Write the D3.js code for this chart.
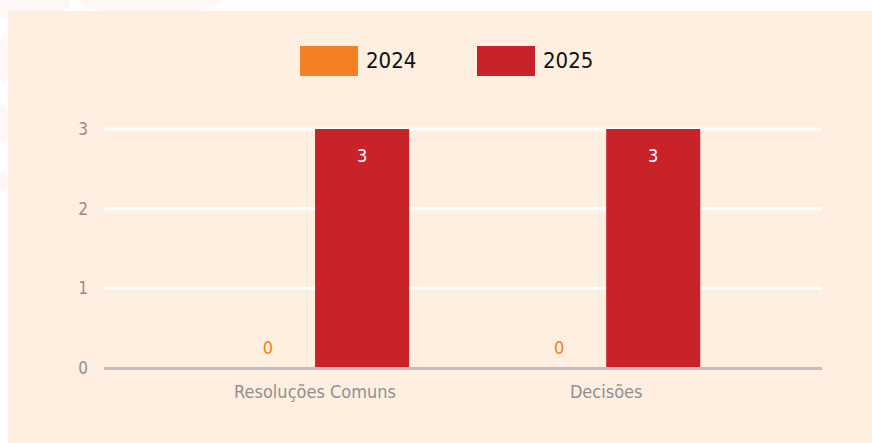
<!DOCTYPE html>
<html>
<head>
<meta charset="utf-8">
<script src="https://cdn.jsdelivr.net/npm/d3@7"></script>
<style>
  body { margin: 0; background: #fff; }
  svg { display: block; }
  text { font-family: "Liberation Sans Narrow", "DejaVu Sans Condensed", "Noto Sans", sans-serif; }
</style>
</head>
<body>
<div id="chart"></div>
<script>
// dados
const categories = ["Resoluções Comuns", "Decisões"];
const seriesNames = ["2024", "2025"];
const values2024 = [0, 0];
const values2025 = [3, 3];
const yTicks = [0, 1, 2, 3];
const colors = ["#f58023", "#c9232a"];

const width = 872, height = 443;

const svg = d3.select("#chart")
    .append("svg")
    .attr("width", width)
    .attr("height", height);

// manchas claras atrás do painel
const blobs = [
    { x: 20, y: 4, rx: 50, ry: 14 },
    { x: 150, y: 2, rx: 70, ry: 12 },
    { x: 3, y: 60, rx: 6, ry: 24 },
    { x: 3, y: 125, rx: 6, ry: 20 },
    { x: 3, y: 182, rx: 5, ry: 10 }
];
svg.selectAll("ellipse.blob")
    .data(blobs)
    .enter()
    .append("ellipse")
    .attr("cx", d => d.x)
    .attr("cy", d => d.y)
    .attr("rx", d => d.rx)
    .attr("ry", d => d.ry)
    .attr("fill", "#fef7f6");

// painel
svg.append("rect")
    .attr("x", 8)
    .attr("y", 11)
    .attr("width", width - 8)
    .attr("height", height - 11)
    .attr("fill", "#feefe1");

const left = 104, right = 822;

const y = d3.scaleLinear()
    .domain([0, 3])
    .range([368, 129]);

const x0 = d3.scaleBand()
    .domain(categories)
    .range([left, right])
    .paddingInner(0.354)
    .paddingOuter(0.41)
    .align(0.49);

const x1 = d3.scaleBand()
    .domain(seriesNames)
    .range([0, x0.bandwidth()]);

// grade
svg.append("g")
    .selectAll("line")
    .data(yTicks.filter(d => d > 0))
    .enter()
    .append("line")
    .attr("x1", left)
    .attr("x2", right)
    .attr("y1", d => y(d))
    .attr("y2", d => y(d))
    .attr("stroke", "#fff")
    .attr("stroke-width", 3);

// rótulos do eixo y
svg.append("g")
    .selectAll("text")
    .data(yTicks)
    .enter()
    .append("text")
    .attr("x", 83)
    .attr("y", d => y(d))
    .attr("dy", "0.35em")
    .attr("text-anchor", "middle")
    .attr("fill", "#8f8f8f")
    .attr("font-size", "17px")
    .text(d => d);

const rows = categories.map((c, i) => ({
    cat: c,
    vals: [
        { s: "2024", v: values2024[i], color: colors[0] },
        { s: "2025", v: values2025[i], color: colors[1] }
    ]
}));

const groups = svg.selectAll("g.grupo")
    .data(rows)
    .enter()
    .append("g")
    .attr("class", "grupo")
    .attr("transform", d => `translate(${x0(d.cat)},0)`);

groups.selectAll("rect")
    .data(d => d.vals)
    .enter()
    .append("rect")
    .attr("x", d => x1(d.s))
    .attr("width", x1.bandwidth())
    .attr("y", d => y(d.v))
    .attr("height", d => y(0) - y(d.v))
    .attr("fill", d => d.color);

// valores nas barras
groups.selectAll("text")
    .data(d => d.vals)
    .enter()
    .append("text")
    .attr("x", d => x1(d.s) + x1.bandwidth() / 2)
    .attr("y", d => d.v > 0 ? y(d.v) + 33 : y(d.v) - 14)
    .attr("text-anchor", "middle")
    .attr("fill", d => d.v > 0 ? "#fff" : d.color)
    .attr("font-size", "18px")
    .text(d => d.v);

// linha de base
svg.append("line")
    .attr("x1", left)
    .attr("x2", right)
    .attr("y1", y(0) + 0.5)
    .attr("y2", y(0) + 0.5)
    .attr("stroke", "#c2bebb")
    .attr("stroke-width", 3);

// rótulos das categorias
svg.append("g")
    .selectAll("text")
    .data(categories)
    .enter()
    .append("text")
    .attr("x", d => x0(d) + x0.bandwidth() / 2)
    .attr("y", 398)
    .attr("text-anchor", "middle")
    .attr("fill", "#8f8f8f")
    .attr("font-size", "18px")
    .text(d => d);

// legenda
const legendX = [300, 477];
const legend = svg.selectAll("g.legenda")
    .data(seriesNames)
    .enter()
    .append("g")
    .attr("class", "legenda")
    .attr("transform", (d, i) => `translate(${legendX[i]},46)`);

legend.append("rect")
    .attr("width", 58)
    .attr("height", 30)
    .attr("fill", (d, i) => colors[i]);

legend.append("text")
    .attr("x", 66)
    .attr("y", 22)
    .attr("fill", "#111")
    .attr("font-size", "22px")
    .text(d => d);
</script>
</body>
</html>
